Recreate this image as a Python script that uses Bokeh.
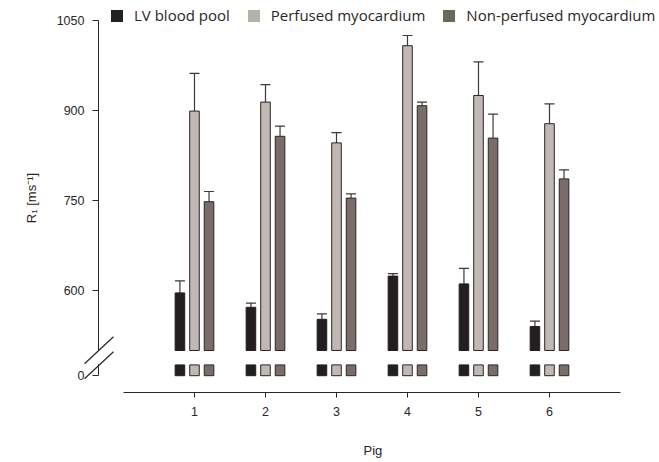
from bokeh.plotting import figure
from bokeh.models import (Range1d, FixedTicker, Legend, LegendItem, Whisker, TeeHead,
                          Arrow, ColumnDataSource, Title)
from bokeh.embed import file_html
from bokeh.resources import INLINE

# ---- data ----
pigs = [1, 2, 3, 4, 5, 6]
pig_labels = ["1", "2", "3", "4", "5", "6"]
series_names = ["LV blood pool", "Perfused myocardium", "Non-perfused myocardium"]
lv_mean = [596, 572, 552, 624, 611, 540]
lv_sd = [20, 7, 9, 4, 26, 9]
perf_mean = [899, 914, 846, 1008, 925, 878]
perf_sd = [63, 29, 17, 17, 56, 33]
nonperf_mean = [748, 857, 754, 908, 854, 786]
nonperf_sd = [17, 17, 7, 6, 40, 15]
y_ticks = [600, 750, 900, 1050]
x_title = "Pig"
y_title = "R\u2081 [ms\u207b\u00b9]"

# ---- axis break (display coordinates) ----
ZERO_POS = 458     # where "0" is drawn
STUB_TOP = 476     # top of the short stub below the break
BREAK = 500        # bottom of the bars above the break
Y_AXIS_X = -0.352  # x position of the y axis

bar_colors = ["#231f20", "#c1b8b6", "#7a6c69"]
legend_colors = ["#231f20", "#b2b4ab", "#686a55"]
offsets = [-0.205, 0.0, 0.205]
BAR_W = 0.135

p = figure(width=655, height=460, output_backend="svg", toolbar_location=None,
           x_range=Range1d(-1.704, 7.493), y_range=Range1d(430, 1083.33),
           min_border_left=2, min_border_right=0, min_border_top=0,
           min_border_bottom=68)
p.outline_line_color = None
p.xgrid.grid_line_color = None
p.ygrid.grid_line_color = None
p.background_fill_color = "white"

TEXT_C = "#2a2627"

# y axis
ya = p.yaxis[0]
ya.fixed_location = Y_AXIS_X
ya.ticker = FixedTicker(ticks=[ZERO_POS] + y_ticks)
ya.major_label_overrides = {ZERO_POS: "0"}
ya.bounds = (ZERO_POS, 1050)
ya.axis_line_color = TEXT_C
ya.axis_line_width = 1
ya.major_tick_out = 6
ya.major_tick_in = 0
ya.major_tick_line_color = TEXT_C
ya.minor_tick_line_color = None
ya.major_label_standoff = 8
ya.major_label_text_font = "Liberation Sans"
ya.major_label_text_font_size = "12.5px"
ya.major_label_text_color = TEXT_C
ya.axis_label = y_title
ya.axis_label_text_font = "Liberation Sans"
ya.axis_label_text_font_size = "13px"
ya.axis_label_text_font_style = "normal"
ya.axis_label_text_color = TEXT_C
ya.axis_label_standoff = 15

# x axis
xa = p.xaxis[0]
xa.ticker = FixedTicker(ticks=pigs)
xa.major_label_overrides = {pg: lab for pg, lab in zip(pigs, pig_labels)}
xa.bounds = (0, 7)
xa.axis_line_color = TEXT_C
xa.axis_line_width = 1
xa.major_tick_out = 5
xa.major_tick_in = 0
xa.major_tick_line_color = TEXT_C
xa.minor_tick_line_color = None
xa.major_label_standoff = 9
xa.major_label_text_font = "Liberation Sans"
xa.major_label_text_font_size = "12.5px"
xa.major_label_text_color = TEXT_C

# x axis title, centred under the drawn axis line (a thin spacer pushes it down)
p.add_layout(Title(text=" ", text_font_size="1px", standoff=17), "below")
p.add_layout(Title(text=x_title, align="left", offset=361, standoff=4,
                   text_font="Liberation Sans", text_font_size="13px",
                   text_font_style="normal", text_color=TEXT_C), "below")

# bars
means = [lv_mean, perf_mean, nonperf_mean]
sds = [lv_sd, perf_sd, nonperf_sd]
for k in range(3):
    xs = [pg + offsets[k] for pg in pigs]
    src = ColumnDataSource(dict(x=xs, mean=means[k],
                                upper=[m + s for m, s in zip(means[k], sds[k])]))
    outline = bar_colors[0] if k == 0 else "#2b2526"
    p.vbar(x="x", top="mean", bottom=BREAK, width=BAR_W, source=src,
           fill_color=bar_colors[k], line_color=outline, line_width=1)
    p.vbar(x="x", top=STUB_TOP, bottom=ZERO_POS, width=BAR_W, source=src,
           fill_color=bar_colors[k], line_color=outline, line_width=1)
    w = Whisker(base="x", lower="mean", upper="upper", source=src,
                line_color="#3a3a3a", line_width=1.2,
                upper_head=TeeHead(size=10, line_color="#3a3a3a", line_width=1.2),
                lower_head=None)
    p.add_layout(w)

# axis break: erase the axis between the marks, then draw the two slashes
p.add_layout(Arrow(start=None, end=None, x_start=Y_AXIS_X, y_start=STUB_TOP + 1,
                   x_end=Y_AXIS_X, y_end=BREAK, line_color="white", line_width=4,
                   level="overlay"))
for dy in [0, -25]:
    p.add_layout(Arrow(start=None, end=None, x_start=-0.549, y_start=478 + dy,
                       x_end=-0.141, y_end=523 + dy, line_color=TEXT_C, line_width=1.2,
                       level="overlay"))

# legend (swatch colours as in the original key); zero-height proxies draw nothing
items = []
for k in range(3):
    r = p.vbar(x=pigs[:1], top=[BREAK], bottom=[BREAK], width=0.1,
               fill_color=legend_colors[k], line_color=None)
    items.append(LegendItem(label=series_names[k], renderers=[r]))
legend = Legend(items=items, orientation="horizontal", location=(107, 365),
                glyph_width=15, glyph_height=15, label_height=24, label_standoff=10,
                spacing=16, padding=0, margin=0, border_line_color=None,
                background_fill_alpha=0, label_text_font="Open Sans",
                label_text_font_size="15px", label_text_color=TEXT_C)
p.add_layout(legend, "center")

open("out.html", "w").write(file_html(p, INLINE))
